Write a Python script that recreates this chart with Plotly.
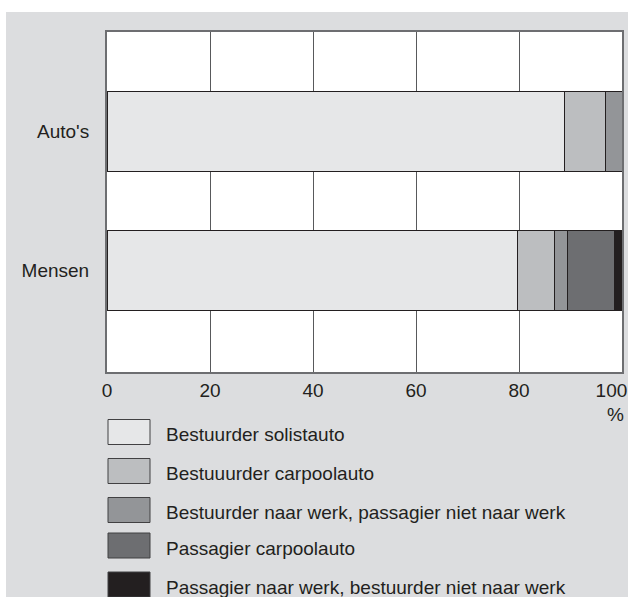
import plotly.graph_objects as go

# ---- data ----
categories = ["Auto's", "Mensen"]
cat_pos = [1, 0]
series_names = [
    "Bestuurder solistauto",
    "Bestuuurder carpoolauto",
    "Bestuurder naar werk, passagier niet naar werk",
    "Passagier carpoolauto",
    "Passagier naar werk, bestuurder niet naar werk",
]
solist = [88.8, 79.7]
carpool_driver = [7.9, 7.2]
driver_work = [3.3, 2.6]
carpool_passenger = [None, 9.1]
passenger_work = [None, 1.4]
series_values = [solist, carpool_driver, driver_work, carpool_passenger, passenger_work]
series_colors = ["#e6e7e8", "#bcbec0", "#939598", "#6d6e71", "#231f20"]
x_tick_vals = [0, 20, 40, 60, 80, 100]
x_tick_text = ["0", "20", "40", "60", "80", "100\u00a0\u00a0\u00a0\u00a0"]

FONT = "Liberation Sans, Arial, sans-serif"
TXT = "#231f20"
W, H = 628, 597
ML, MR, MT, MB = 107, 6, 32, 225
PW, PH = W - ML - MR, H - MT - MB


def px_x(wx):
    return (wx - ML) / PW


def px_y(wy):
    return 1 - (wy - MT) / PH


fig = go.Figure()
for name, vals, col in zip(series_names, series_values, series_colors):
    fig.add_trace(go.Bar(
        y=cat_pos, x=vals, name=name, orientation="h", width=0.576,
        marker=dict(color=col, line=dict(color="#231f20", width=1)),
        showlegend=False,
    ))

shapes = [
    dict(type="rect", xref="paper", yref="paper", x0=px_x(6), x1=px_x(640),
         y0=px_y(610), y1=px_y(12), fillcolor="#dcdddf", line=dict(width=0), layer="below"),
    dict(type="rect", xref="paper", yref="paper", x0=0, x1=1, y0=0, y1=1,
         fillcolor="white", line=dict(width=0), layer="below"),
]
annotations = []
row_tops = [419.5, 458.5, 497.5, 533, 572]
for i, (name, col) in enumerate(zip(series_names, series_colors)):
    top = row_tops[i]
    shapes.append(dict(type="rect", xref="paper", yref="paper",
                       x0=px_x(108), x1=px_x(150), y0=px_y(top + 25), y1=px_y(top),
                       fillcolor=col, line=dict(color="#414042", width=1)))
    annotations.append(dict(xref="paper", yref="paper", x=px_x(164), y=px_y(top + 15),
                            text=name, showarrow=False, xanchor="left", yanchor="middle",
                            font=dict(family=FONT, size=19, color=TXT)))
annotations.append(dict(xref="paper", yref="paper", x=px_x(626), y=px_y(414),
                        text="%", showarrow=False, xanchor="right", yanchor="middle",
                        font=dict(family=FONT, size=19, color=TXT)))

fig.update_layout(
    width=W, height=H,
    margin=dict(l=ML, r=MR, t=MT, b=MB, pad=0),
    barmode="stack",
    paper_bgcolor="white",
    plot_bgcolor="white",
    font=dict(family=FONT, size=19, color=TXT),
    shapes=shapes,
    annotations=annotations,
    xaxis=dict(range=[0, 100], tickvals=x_tick_vals, ticktext=x_tick_text,
               showgrid=True, gridcolor="#58595b", gridwidth=1, zeroline=False,
               showline=True, linecolor="#6d6e71", linewidth=2, mirror=True,
               ticks="", ticklabelstandoff=0, ticklabeloverflow="allow",
               automargin=False,
               tickfont=dict(family=FONT, size=19, color=TXT), fixedrange=True),
    yaxis=dict(range=[-0.734, 1.72], tickvals=cat_pos, ticktext=categories,
               showgrid=False, zeroline=False, automargin=False,
               showline=True, linecolor="#6d6e71", linewidth=2, mirror=True,
               ticks="", ticklabelstandoff=12,
               tickfont=dict(family=FONT, size=19, color=TXT), fixedrange=True),
)

fig.write_html(
    "out.html",
    config={"displayModeBar": False},
    post_script="document.body.style.margin='0';document.body.style.overflow='hidden';",
)
